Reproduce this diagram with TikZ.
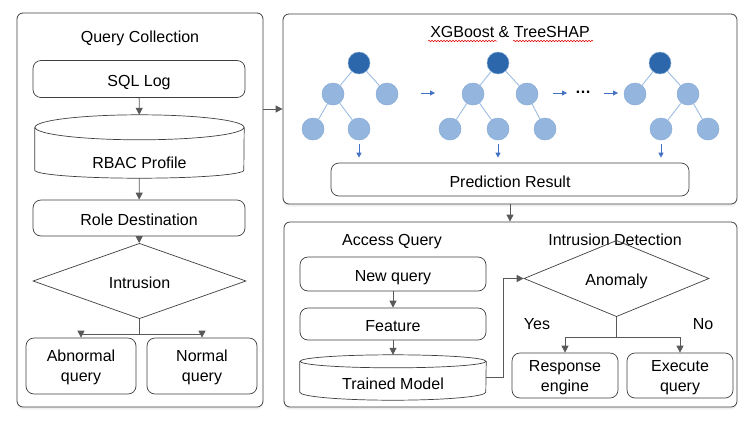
\documentclass[tikz,border=0pt]{standalone}
\usepackage{fontspec}
\setmainfont{Liberation Sans}
\usetikzlibrary{arrows.meta,shapes.geometric,shadows,decorations.pathmorphing}
\definecolor{edgegray}{HTML}{3F3F3F}
\definecolor{arrowgray}{HTML}{595959}
\definecolor{rootblue}{HTML}{2C67AB}
\definecolor{leafblue}{HTML}{94B6DE}
\definecolor{leafline}{HTML}{86ABD8}
\definecolor{twigblue}{HTML}{9DBEE3}
\definecolor{flowblue}{HTML}{4472C4}
\begin{document}
\begin{tikzpicture}[x=1pt,y=-1pt,
  every node/.style={font=\fontsize{16}{20}\selectfont, text depth=0pt},
  panel/.style={draw=edgegray, line width=0.8pt, rounded corners=6pt, fill=white,
    drop shadow={opacity=0.12, shadow xshift=0pt, shadow yshift=-2.5pt}},
  box/.style={draw=edgegray, line width=0.7pt, rounded corners=8pt, align=center, inner sep=2pt},
  onerow/.style={text height=15pt},
  dbase/.style={rectangle, inner sep=0pt},
  cylline/.style={draw=edgegray, line width=0.7pt},
  decision/.style={diamond, draw=edgegray, line width=0.7pt, inner sep=0pt, text height=14pt},
  flow/.style={draw=arrowgray, line width=0.8pt, -{Triangle[length=7pt,width=7pt]}},
  fork/.style={draw=arrowgray, line width=0.8pt},
  blueflow/.style={draw=flowblue, line width=0.9pt, -{Triangle[length=5pt,width=5pt]}},
  rootnode/.style={circle, fill=rootblue, draw=leafline, line width=0.5pt, minimum size=22pt, inner sep=0pt},
  leafnode/.style={circle, fill=leafblue, draw=leafline, line width=0.5pt, minimum size=22pt, inner sep=0pt},
  twig/.style={draw=twigblue, line width=0.9pt},
  squiggle/.style={draw=red!85!black, line width=0.5pt, decorate,
    decoration={snake, amplitude=0.8pt, segment length=3pt}}]
\useasboundingbox (0,0) rectangle (751,421);

\node[panel, minimum width=246pt, minimum height=394pt] (qc) at (140,210) {};
\node[panel, minimum width=454pt, minimum height=190pt] (xgb) at (510,109) {};
\node[panel, minimum width=453pt, minimum height=185pt] (det) at (510.5,314.5) {};

\node (qctitle) at (140,37) {Query Collection};
\node[box, onerow, minimum width=212pt, minimum height=37pt] (sql) at (139,79) {SQL Log};
\node[dbase, minimum width=209pt, minimum height=63pt] (rbac) at (139.5,146.5) {};
\draw[cylline] ([yshift=-12.5pt]rbac.north) ellipse [x radius=104.5, y radius=12.5];
\draw[cylline] ([yshift=-12.5pt]rbac.north west) -- ([yshift=8pt]rbac.south west)
  arc[start angle=180, end angle=0, x radius=104.5, y radius=8] -- ([yshift=-12.5pt]rbac.north east);
\node (rbactxt) at (139.5,162.5) {RBAC Profile};
\node[box, onerow, minimum width=212pt, minimum height=36pt] (role) at (139,218) {Role Destination};
\node[decision, minimum width=213pt, minimum height=52pt] (intr) at (139.5,281) {Intrusion};
\node[box, minimum width=110pt, minimum height=56pt] (abn) at (81,366) {Abnormal\\query};
\node[box, minimum width=110pt, minimum height=56pt] (norm) at (202,366) {Normal\\query};
\draw[flow] (sql) -- (rbac);
\draw[flow] (rbac) -- (role);
\draw[flow] (role) -- (intr);
\draw[fork] (intr.south) -- ++(0,15) coordinate (qcfork);
\draw[flow] (qcfork) -| (abn.north);
\draw[flow] (qcfork) -| (norm.north);

\draw[flow] (qc.east |- xgb.west) -- (xgb.west);

\node (xgbtitle) at (510,32) {XGBoost \& TreeSHAP};
\draw[squiggle] (428,41) -- (497,41);
\draw[squiggle] (513,41) -- (593,41);

\node[rootnode] (ta) at (359,63) {};
\node[leafnode] (ta1) at (333,94) {};
\node[leafnode] (ta2) at (387,94) {};
\node[leafnode] (ta3) at (313,129) {};
\node[leafnode] (ta4) at (359,129) {};
\draw[twig] (ta) -- (ta1);
\draw[twig] (ta) -- (ta2);
\draw[twig] (ta1) -- (ta3);
\draw[twig] (ta1) -- (ta4);

\node[rootnode] (tb) at (498,63) {};
\node[leafnode] (tb1) at (473,94) {};
\node[leafnode] (tb2) at (527,94) {};
\node[leafnode] (tb3) at (450,129) {};
\node[leafnode] (tb4) at (498,129) {};
\node[leafnode] (tb5) at (545,129) {};
\draw[twig] (tb) -- (tb1);
\draw[twig] (tb) -- (tb2);
\draw[twig] (tb1) -- (tb3);
\draw[twig] (tb1) -- (tb4);
\draw[twig] (tb2) -- (tb5);

\node[rootnode] (tc) at (660,63) {};
\node[leafnode] (tc1) at (635,94) {};
\node[leafnode] (tc2) at (688,94) {};
\node[leafnode] (tc3) at (661,129) {};
\node[leafnode] (tc4) at (708,129) {};
\draw[twig] (tc) -- (tc1);
\draw[twig] (tc) -- (tc2);
\draw[twig] (tc2) -- (tc3);
\draw[twig] (tc2) -- (tc4);

\node[anchor=base] (more) at (583,93) {\textbf{…}};
\coordinate (gapa) at (421,93);
\coordinate (gapb) at (553,93);
\coordinate (gapc) at (604,93);
\draw[blueflow] (gapa) -- ++(14,0);
\draw[blueflow] (gapb) -- ++(14,0);
\draw[blueflow] (gapc) -- ++(14,0);

\node[box, onerow, minimum width=358pt, minimum height=33pt] (pred) at (510,179.5) {Prediction Result};
\draw[blueflow] ([yshift=-4pt]ta4.south) -- ([yshift=5pt]ta4.south |- pred.north);
\draw[blueflow] ([yshift=-4pt]tb4.south) -- ([yshift=5pt]tb4.south |- pred.north);
\draw[blueflow] ([yshift=-4pt]tc3.south) -- ([yshift=5pt]tc3.south |- pred.north);

\draw[flow] (xgb.south) -- (xgb.south |- det.north);

\node (aqtitle) at (392,240) {Access Query};
\node (idtitle) at (615,240) {Intrusion Detection};
\node[box, onerow, minimum width=186pt, minimum height=34pt] (newq) at (393,274) {New query};
\node[box, onerow, minimum width=186pt, minimum height=32pt] (feat) at (393,324) {Feature};
\node[dbase, minimum width=186pt, minimum height=45pt] (model) at (393,377.5) {};
\draw[cylline] ([yshift=-6.5pt]model.north) ellipse [x radius=93, y radius=6.5];
\draw[cylline] ([yshift=-6.5pt]model.north west) -- ([yshift=8pt]model.south west)
  arc[start angle=180, end angle=0, x radius=93, y radius=8] -- ([yshift=-6.5pt]model.north east);
\node (modeltxt) at (393,383.5) {Trained Model};
\draw[flow] (newq) -- (feat);
\draw[flow] (feat) -- (model);

\node[decision, minimum width=185pt, minimum height=55pt] (anom) at (616.5,278.5) {Anomaly};
\draw[flow] (model.east) -- ++(17,0) |- (anom.west);
\node[box, minimum width=106pt, minimum height=45pt] (resp) at (565,375.5) {Response\\engine};
\node[box, minimum width=106pt, minimum height=45pt] (exec) at (680,375.5) {Execute\\query};
\draw[fork] (anom.south) -- ++(0,20) coordinate (idfork);
\draw[flow] (idfork) -| (resp.north);
\draw[flow] (idfork) -| (exec.north);
\node (yes) at (537,324) {Yes};
\node (no) at (703,324) {No};
\end{tikzpicture}
\end{document}
